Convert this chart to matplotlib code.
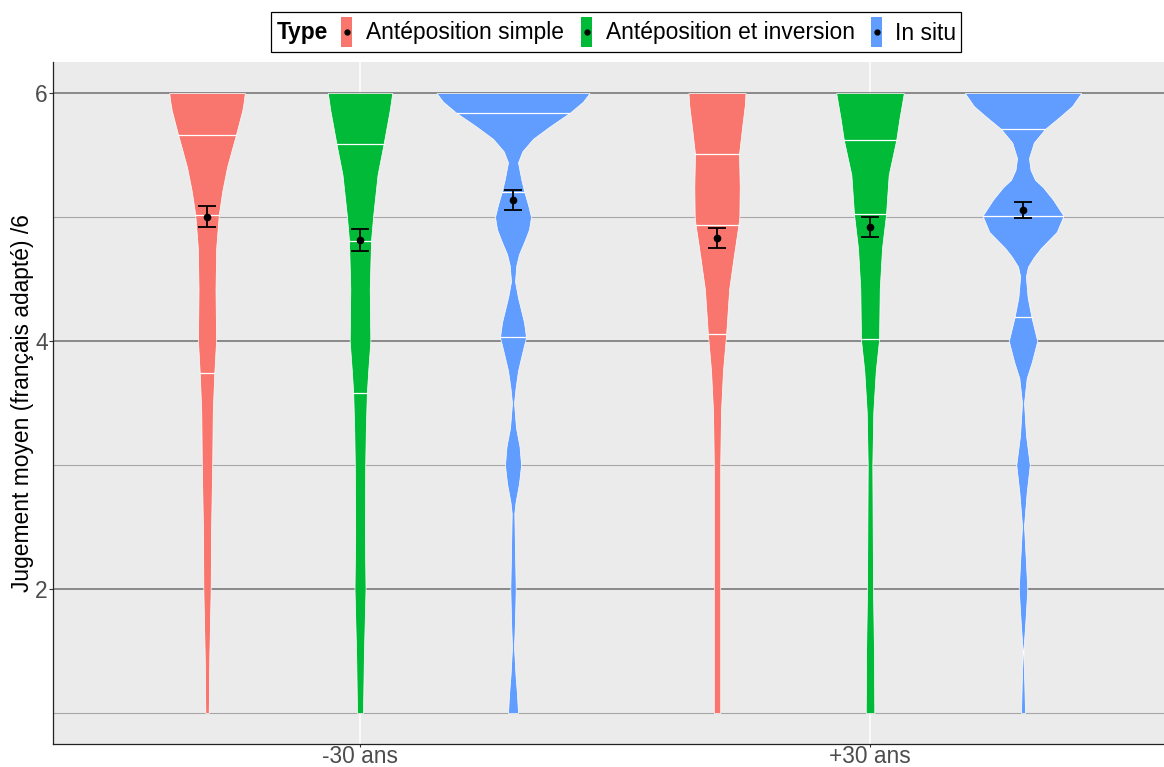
import numpy as np
import matplotlib.pyplot as plt
from matplotlib.patches import Rectangle

plt.rcParams["font.family"] = ["Liberation Sans", "DejaVu Sans"]

groups = ["-30 ans", "+30 ans"]
types = ["Antéposition simple", "Antéposition et inversion", "In situ"]
colors = ["#F8766D", "#00BA38", "#619CFF"]

# violin outlines: judgement level -> relative half-width (1 = full slot)
young_simple_y = [6.0, 5.93, 5.86, 5.665, 5.55, 5.40, 5.21, 5.02, 4.75, 4.42, 4.0, 3.74, 3.43, 3.0, 2.45, 2.0, 1.46, 1.0]
young_simple_w = [0.494, 0.48, 0.461, 0.379, 0.327, 0.261, 0.20, 0.154, 0.12, 0.111, 0.118, 0.095, 0.075, 0.068, 0.052, 0.048, 0.030, 0.022]

young_inv_y = [6.0, 5.86, 5.58, 5.34, 5.0, 4.81, 4.42, 4.0, 3.76, 3.58, 3.27, 3.0, 2.45, 2.0, 1.46, 1.0]
young_inv_w = [0.421, 0.388, 0.305, 0.229, 0.170, 0.144, 0.127, 0.135, 0.107, 0.089, 0.075, 0.068, 0.063, 0.072, 0.050, 0.039]

young_situ_y = [6.0, 5.93, 5.84, 5.73, 5.63, 5.53, 5.44, 5.30, 5.21, 5.1, 5.0, 4.9, 4.81, 4.7, 4.61, 4.48, 4.35,
                4.15, 4.03, 3.9, 3.76, 3.62, 3.5, 3.3, 3.15, 3.0, 2.85, 2.7, 2.61, 2.3, 2.0, 1.75, 1.53, 1.3, 1.15, 1.0]
young_situ_w = [1.0, 0.915, 0.741, 0.48, 0.261, 0.122, 0.065, 0.109, 0.144, 0.196, 0.235, 0.209, 0.153, 0.078, 0.043, 0.026, 0.065,
                0.144, 0.170, 0.118, 0.065, 0.033, 0.013, 0.039, 0.085, 0.105, 0.078, 0.033, 0.017, 0.026, 0.035, 0.026, 0.013, 0.033, 0.052, 0.065]

old_simple_y = [6.0, 5.9, 5.73, 5.51, 5.24, 5.0, 4.94, 4.68, 4.42, 4.06, 3.76, 3.43, 3.0, 2.0, 1.0]
old_simple_w = [0.373, 0.363, 0.329, 0.288, 0.297, 0.292, 0.281, 0.218, 0.159, 0.120, 0.078, 0.052, 0.042, 0.042, 0.042]

old_inv_y = [6.0, 5.80, 5.62, 5.34, 5.02, 4.75, 4.42, 4.01, 3.76, 3.43, 3.0, 2.0, 1.46, 1.0]
old_inv_w = [0.442, 0.386, 0.342, 0.244, 0.209, 0.157, 0.127, 0.118, 0.075, 0.043, 0.030, 0.039, 0.052, 0.056]

old_situ_y = [6.0, 5.895, 5.81, 5.71, 5.6, 5.475, 5.38, 5.30, 5.24, 5.14, 5.01, 4.88, 4.75, 4.68, 4.6, 4.52, 4.35, 4.19,
              4.0, 3.83, 3.70, 3.5, 3.24, 3.0, 2.78, 2.51, 2.25, 2.0, 1.73, 1.5, 1.23, 1.0]
old_situ_w = [0.761, 0.643, 0.484, 0.288, 0.141, 0.078, 0.098, 0.157, 0.261, 0.392, 0.529, 0.441, 0.235, 0.146, 0.065, 0.037, 0.061, 0.111,
              0.186, 0.115, 0.048, 0.013, 0.039, 0.088, 0.048, 0.013, 0.035, 0.056, 0.030, 0.004, 0.017, 0.026]

# quartiles (25 / 50 / 75 %) drawn inside each violin
quartiles = [
    [[3.74, 5.02, 5.665], [3.58, 4.81, 5.588], [4.03, 5.2, 5.837]],
    [[4.054, 4.932, 5.51], [4.014, 5.026, 5.62], [4.19, 5.01, 5.71]],
]
# mean and error bar limits
means = [[5.0, 4.814, 5.14], [4.833, 4.92, 5.055]]
err_lo = [[4.918, 4.725, 5.06], [4.753, 4.835, 4.99]]
err_hi = [[5.087, 4.905, 5.221], [4.913, 5.0, 5.124]]

shapes = [
    [(young_simple_y, young_simple_w), (young_inv_y, young_inv_w), (young_situ_y, young_situ_w)],
    [(old_simple_y, old_simple_w), (old_inv_y, old_inv_w), (old_situ_y, old_situ_w)],
]

W, H = 1164, 767
fig = plt.figure(figsize=(W / 100, H / 100), dpi=100)
ax = fig.add_axes([53 / W, 1 - 744 / H, 1 - 53 / W, (744 - 62) / H])
ax.set_facecolor("#EBEBEB")

dodge = 0.3
half_slot = 0.15
for gi in range(len(groups)):
    for ti in range(len(types)):
        x = gi + 1 + (ti - 1) * dodge
        yv, wv = shapes[gi][ti]
        yv = np.asarray(yv)
        hw = np.asarray(wv) * half_slot
        ax.fill_betweenx(yv, x - hw, x + hw, facecolor=colors[ti], edgecolor="white",
                         linewidth=0.5, zorder=2)
        for q in quartiles[gi][ti]:
            qw = np.interp(q, yv[::-1], hw[::-1])
            ax.plot([x - qw, x + qw], [q, q], color="white", lw=0.9, zorder=3)
        m = means[gi][ti]
        ax.errorbar(x, m, yerr=[[m - err_lo[gi][ti]], [err_hi[gi][ti] - m]], fmt="o",
                    color="black", ms=4.5, capsize=6.5, elinewidth=1.3, capthick=1.3, zorder=4)

ax.set_xlim(0.398, 0.398 + (W - 53) / 510)
ax.set_ylim(0.75, 6.25)
ax.set_xticks([1, 2])
ax.set_xticklabels(groups)
ax.set_yticks([2, 4, 6])
ax.set_yticks([1, 3, 5], minor=True)
ax.grid(which="major", axis="y", color="#6E6E6E", lw=1.1, zorder=0)
ax.grid(which="minor", axis="y", color="#A6A6A6", lw=0.8, zorder=0)
ax.grid(which="major", axis="x", color="white", lw=1.1, zorder=0)
ax.set_axisbelow(True)
ax.tick_params(which="minor", length=0)
ax.tick_params(which="major", length=2.8, width=0.8, color="#333333", labelcolor="#4D4D4D",
               labelsize=16.4, pad=0.8)
ax.tick_params(axis="x", which="major", length=1.8, pad=-1.3)
for s in ["top", "right"]:
    ax.spines[s].set_visible(False)
for s in ["left", "bottom"]:
    ax.spines[s].set_color("#222222")
    ax.spines[s].set_linewidth(0.9)
ax.set_ylabel("Jugement moyen (français adapté) /6", fontsize=16.4, color="black", labelpad=1)

# legend across the top
def fx(px):
    return px / W


def fy(py):
    return 1 - py / H


fig.add_artist(Rectangle((fx(271), fy(52)), fx(961) - fx(271), fy(12) - fy(52),
                         transform=fig.transFigure, fill=False, edgecolor="black", lw=0.9))
fig.text(fx(277), fy(33), "Type", fontsize=16.4, fontweight="bold", va="center", ha="left")
key_x = [341, 581, 871]
label_x = [366, 606, 895]
for k, lab in enumerate(types):
    fig.add_artist(Rectangle((fx(key_x[k]), fy(47)), fx(11), fy(17) - fy(47),
                             transform=fig.transFigure, facecolor=colors[k], edgecolor="none"))
    fig.add_artist(plt.Line2D([fx(key_x[k] + 5.5)], [fy(32)], marker="o", ms=3.5,
                              color="black", transform=fig.transFigure))
    fig.text(fx(label_x[k]), fy(33), lab, fontsize=16.4, va="center", ha="left")

fig.savefig("out.png", dpi=100)
